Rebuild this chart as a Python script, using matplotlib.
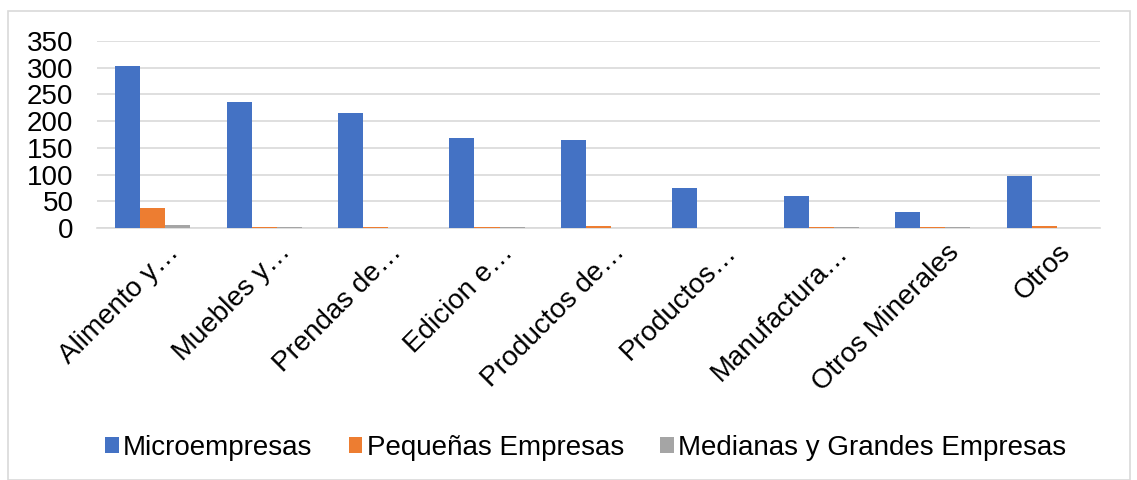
import matplotlib
matplotlib.use("Agg")
import matplotlib.pyplot as plt
import numpy as np
from matplotlib.patches import Rectangle

categories = ["Alimento y…", "Muebles y…", "Prendas de…", "Edicion e…", "Productos de…",
              "Productos…", "Manufactura…", "Otros Minerales", "Otros"]
micro = [303, 236, 215, 168, 165, 74, 60, 30, 97]
pequenas = [37, 1, 1, 1, 3, 0, 1, 1, 3]
medianas = [5, 1, 0, 1, 0, 0, 1, 1, 0]
series_names = ["Microempresas", "Pequeñas Empresas", "Medianas y Grandes Empresas"]
colors = ["#4472C4", "#ED7D31", "#A5A5A5"]
yticks = [0, 50, 100, 150, 200, 250, 300, 350]

plt.rcParams['font.family'] = ['Liberation Sans', 'DejaVu Sans']

fig = plt.figure(figsize=(11.37, 4.8), dpi=100)
ax = fig.add_axes([0.0853, 0.525, 0.882, 0.39])

x = np.arange(len(categories))
w = 0.225
for i, (vals, name, c) in enumerate(zip([micro, pequenas, medianas], series_names, colors)):
    ax.bar(x + (i - 1) * w, vals, width=w, color=c, label=name, zorder=3)

ax.set_xlim(-0.5, len(categories) - 0.5)
ax.set_ylim(0, 350)
ax.set_yticks(yticks)
ax.set_yticklabels([str(v) for v in yticks], fontsize=20)
ax.yaxis.grid(True, color="#D9D9D9", linewidth=1.2, zorder=0)
ax.tick_params(axis='y', length=0, pad=17)
ax.tick_params(axis='x', length=0, pad=8)
for s in ["top", "right", "left"]:
    ax.spines[s].set_visible(False)
ax.spines["bottom"].set_color("#D9D9D9")
ax.spines["bottom"].set_linewidth(1.2)

ax.set_xticks(x + 0.12)
ax.set_xticklabels(categories, rotation=45, ha='right', rotation_mode='anchor', fontsize=20)

fig.legend(loc='center', bbox_to_anchor=(0.515, 0.067), ncol=3, frameon=False,
           fontsize=20, handlelength=0.5, handleheight=0.5, handletextpad=0.15,
           columnspacing=1.3)

fig.patches.append(Rectangle((0.007, 0.0), 0.987, 0.977, transform=fig.transFigure,
                             fill=False, edgecolor="#D9D9D9", linewidth=1.2))

fig.savefig("out.png", dpi=100)
